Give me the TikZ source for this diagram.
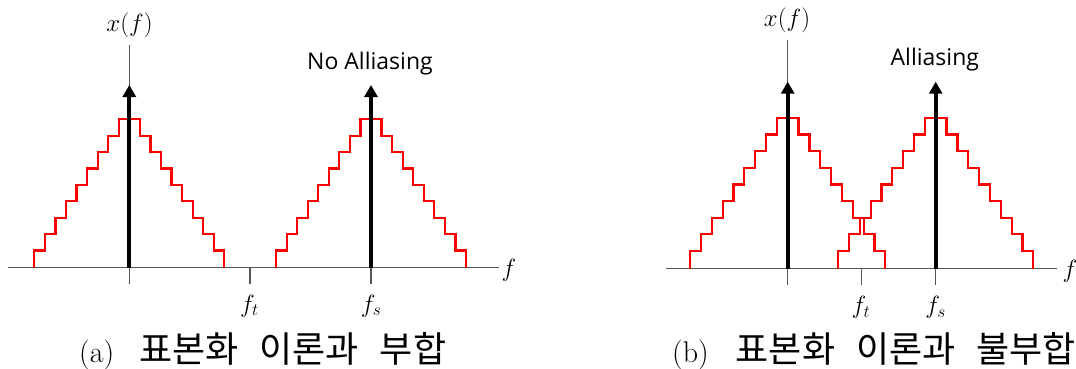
\documentclass[tikz,border=0pt]{standalone}
\usepackage{fontspec}
\usetikzlibrary{arrows.meta}
\newfontfamily\krfont{Noto Sans CJK KR}
\newfontfamily\labelfont{Open Sans}
\newcommand{\capletterfont}{\rmfamily\fontsize{30}{34}\selectfont}
\definecolor{axisgray}{HTML}{555555}
\newcommand{\redstairs}[5]{%
  \draw[stairline] ({#1-9*#2},#3)
    \foreach \k in {1,...,9}{ |- ({#1-(9-\k)*#2},{#3-#4-(\k-1)*#5}) }
    \foreach \j in {1,...,9}{ -| ({#1+\j*#2},{#3-(\j<9)*(#4+(8-\j)*#5)}) };
}
\begin{document}
\begin{tikzpicture}[x=1pt,y=-1pt,
  axisline/.style={draw=axisgray,line width=1.2pt},
  stairline/.style={draw=red,line width=2.2pt,line join=miter},
  spike/.style={draw=black,line width=4.2pt,-{Triangle[width=13pt,length=12pt]}},
  mathlabel/.style={inner sep=0pt,font=\fontsize{23}{26}\selectfont},
  textlabel/.style={inner sep=0pt,anchor=base,font=\labelfont\fontsize{23}{27}\selectfont},
  caption/.style={inner sep=0pt,anchor=base west,font=\krfont\fontsize{36}{40}\selectfont}]
\useasboundingbox (0,0) rectangle (1076,369);
% ---------- panel (a)
\coordinate (aL) at (8,267.7);
\coordinate (aR) at (499,267.7);
\coordinate (aTop) at (129.3,45);
\coordinate (aBot) at (129.3,284);
\coordinate (aO) at (129.3,267.7);
\coordinate (aOtip) at (129.3,85);
\coordinate (aFt) at (250,267.7);
\coordinate (aFtB) at (250,284);
\coordinate (aFs) at (371,267.7);
\coordinate (aFsB) at (371,284);
\coordinate (aFstip) at (371,85);
\draw[axisline] (aL) -- (aR);
\draw[axisline] (aTop) -- (aBot);
\draw[axisline] (aFt) -- (aFtB);
\draw[axisline] (aFs) -- (aFsB);
\redstairs{129.3}{10.55}{267.7}{17.2}{16.4}
\redstairs{371}{10.55}{267.7}{17.2}{16.4}
\draw[spike] (aO) -- (aOtip);
\draw[spike] (aFs) -- (aFstip);
\node[mathlabel] (axf) at (129.5,25) {$x(f)$};
\node[mathlabel,anchor=base] (aflab) at (509,276) {$f$};
\node[mathlabel,anchor=base] (aftlab) at (249.5,312) {$f_t$};
\node[mathlabel,anchor=base] (afslab) at (371,312) {$f_s$};
\node[textlabel] (anoal) at (370,70) {No Alliasing};
\node[caption] (acap) at (79,362) {{\capletterfont (a)}\hspace{25pt}표본화\hspace{21pt}이론과\hspace{21pt}부합};
% ---------- panel (b)
\coordinate (bL) at (666,268.7);
\coordinate (bR) at (1057,268.7);
\coordinate (bTop) at (787.7,40);
\coordinate (bBot) at (787.7,285.3);
\coordinate (bO) at (787.7,268.7);
\coordinate (bOtip) at (787.7,81.7);
\coordinate (bFt) at (861.3,268.7);
\coordinate (bFtB) at (861.3,285.3);
\coordinate (bFs) at (935.7,268.7);
\coordinate (bFsB) at (935.7,285.3);
\coordinate (bFstip) at (935.7,81.7);
\draw[axisline] (bL) -- (bR);
\draw[axisline] (bTop) -- (bBot);
\draw[axisline] (bFt) -- (bFtB);
\draw[axisline] (bFs) -- (bFsB);
\redstairs{787.7}{10.85}{268.7}{17.7}{16.65}
\redstairs{935.7}{10.85}{268.7}{17.7}{16.65}
\draw[spike] (bO) -- (bOtip);
\draw[spike] (bFs) -- (bFstip);
\node[mathlabel] (bxf) at (787,20) {$x(f)$};
\node[mathlabel,anchor=base] (bflab) at (1070,277.5) {$f$};
\node[mathlabel,anchor=base] (bftlab) at (861,313.5) {$f_t$};
\node[mathlabel,anchor=base] (bfslab) at (935.7,313.5) {$f_s$};
\node[textlabel] (bal) at (934.8,65.7) {Alliasing};
\node[caption] (bcap) at (672,362) {{\capletterfont (b)}\hspace{27pt}표본화\hspace{21pt}이론과\hspace{21pt}불부합};
\end{tikzpicture}
\end{document}
